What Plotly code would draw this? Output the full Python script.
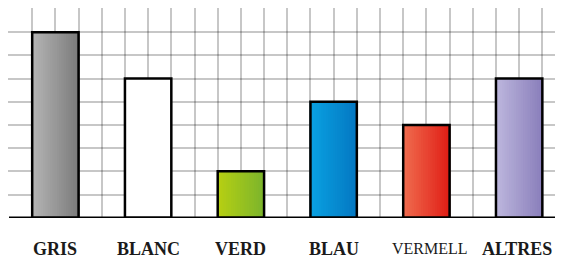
import plotly.graph_objects as go

categories = ["GRIS", "BLANC", "VERD", "BLAU", "VERMELL", "ALTRES"]
values = [8, 6, 2, 5, 4, 6]
color_left = ["#b6b6b6", "#ffffff", "#b8d012", "#0aa2e2", "#f06e50", "#beb8de"]
color_right = ["#7c7c7c", "#ffffff", "#7cb52c", "#0478c2", "#e01e16", "#8a7fbb"]
label_sizes = [18, 18, 18, 18, 16, 18]
label_weights = ["bold", "bold", "bold", "bold", "normal", "bold"]
label_shift = [0, 0, 0, 0, 4, -2]

positions = [2 + 4 * i for i in range(len(categories))]
bar_w = 2
N = 20


def hex2rgb(h):
    h = h.lstrip("#")
    return tuple(int(h[i:i + 2], 16) for i in (0, 2, 4))


def mix(a, b, t):
    ra, rb = hex2rgb(a), hex2rgb(b)
    return "rgb(%d,%d,%d)" % tuple(round(ra[k] + (rb[k] - ra[k]) * t) for k in range(3))


fig = go.Figure()

# gradient slices
xs, ys, ws, cs = [], [], [], []
for i, (p, v) in enumerate(zip(positions, values)):
    for k in range(N):
        xs.append(p - bar_w / 2 + (k + 0.5) * bar_w / N)
        ys.append(v)
        ws.append(bar_w / N * 1.6)
        cs.append(mix(color_left[i], color_right[i], (k + 0.5) / N))
fig.add_trace(go.Bar(x=xs, y=ys, width=ws, marker=dict(color=cs, line=dict(width=0)),
                     hoverinfo="skip", showlegend=False))

# outlines
fig.add_trace(go.Bar(x=positions, y=values, width=[bar_w] * len(values),
                     marker=dict(color="rgba(0,0,0,0)", line=dict(color="black", width=2.5)),
                     showlegend=False, hovertext=categories))

# page body has an 8px default margin; figure is sized to fit the window
W, H = 555, 251
u = (216.7 - 8) / 9
t_m, b_m, l_m = 0, 41, 0
plot_h = H - t_m - b_m
y_top = 9 + 1 / u
y_bot = y_top - plot_h / u
x0 = -1 / u
x1 = x0 + (W - l_m) / u

fig.update_layout(
    width=W, height=H,
    margin=dict(l=l_m, r=0, t=t_m, b=b_m, pad=0),
    paper_bgcolor="white", plot_bgcolor="white",
    barmode="overlay",
    showlegend=False,
    xaxis=dict(range=[x0, x1], dtick=1, tick0=0, showgrid=True,
               gridcolor="rgba(0,0,0,0.22)", gridwidth=1.5, zeroline=False,
               showticklabels=False, ticks="", layer="above traces", fixedrange=True),
    yaxis=dict(range=[y_bot, y_top], dtick=1, tick0=0, showgrid=True,
               gridcolor="rgba(0,0,0,0.22)", gridwidth=1.5, zeroline=False,
               showticklabels=False, ticks="", layer="above traces", fixedrange=True),
)

fig.add_shape(type="line", xref="x", yref="y", x0=0, x1=x1, y0=0, y1=0,
              line=dict(color="black", width=2.2), layer="above")

for c, p, s, wgt, sh in zip(categories, positions, label_sizes, label_weights, label_shift):
    fig.add_annotation(x=p, y=0, xref="x", yref="y", text=c, showarrow=False,
                       yanchor="middle", yshift=-31, xshift=sh,
                       font=dict(family="Liberation Serif", size=s, color="#1a1a1a",
                                 weight=wgt))

fig.write_html("out.html")
